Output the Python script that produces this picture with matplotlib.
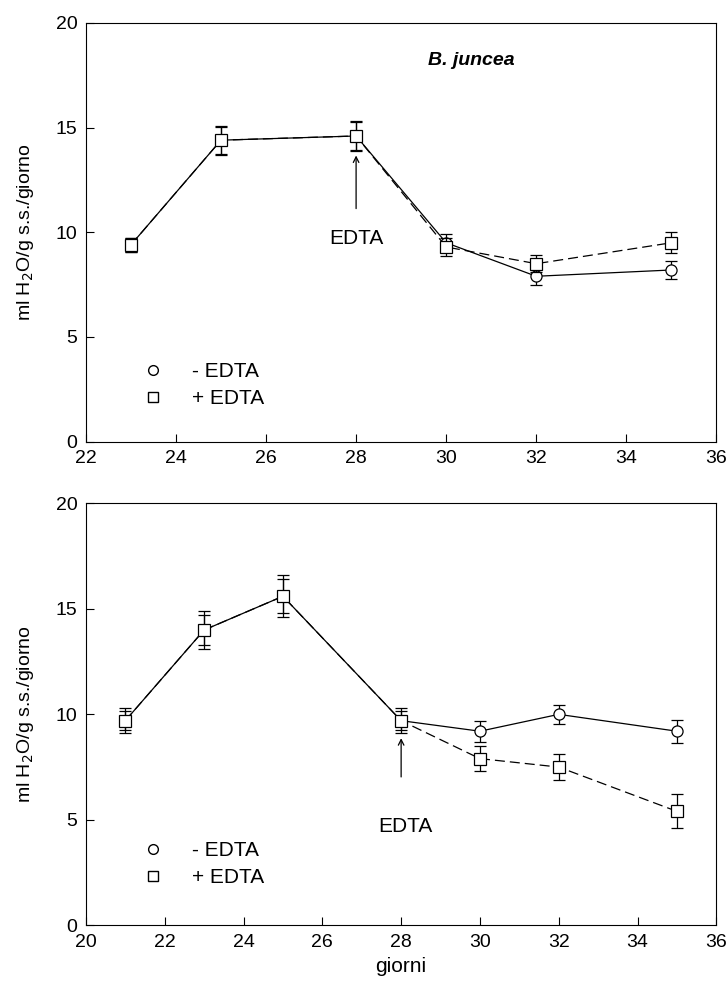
import numpy as np
import matplotlib.pyplot as plt
from matplotlib.lines import Line2D

plt.rcParams['font.family'] = ['Liberation Sans', 'DejaVu Sans']

# B. juncea (pannello superiore)
g1 = [23, 25, 28, 30, 32, 35]
meno1 = [9.4, 14.4, 14.6, 9.5, 7.9, 8.2]
meno1_err = [0.35, 0.7, 0.7, 0.4, 0.4, 0.45]
piu1 = [9.4, 14.4, 14.6, 9.3, 8.5, 9.5]
piu1_err = [0.35, 0.65, 0.65, 0.45, 0.4, 0.5]

# pannello inferiore
g2 = [21, 23, 25, 28, 30, 32, 35]
meno2 = [9.7, 14.0, 15.6, 9.7, 9.2, 10.0, 9.2]
meno2_err = [0.45, 0.7, 0.8, 0.45, 0.5, 0.45, 0.55]
piu2 = [9.7, 14.0, 15.6, 9.7, 7.9, 7.5, 5.4]
piu2_err = [0.6, 0.9, 1.0, 0.6, 0.6, 0.6, 0.8]

ylab = r'ml H$_2$O/g s.s./giorno'


def pannello(ax, x, m, me, p, pe, xlim, arrow, txt, leg_xy):
    ax.errorbar(x, m, yerr=me, color='k', lw=0.9, marker='o', ms=8,
                mfc='white', mec='k', mew=0.9, capsize=4, elinewidth=0.9,
                zorder=3)
    ax.errorbar(x, p, yerr=pe, color='k', lw=0.9, ls=(0, (8, 4)),
                marker='s', ms=9, mfc='white', mec='k', mew=0.9,
                capsize=4, elinewidth=0.9, zorder=4)
    ax.set_xlim(*xlim)
    ax.set_ylim(0, 20)
    ax.set_xticks(np.arange(xlim[0], xlim[1] + 1, 2))
    ax.set_yticks([0, 5, 10, 15, 20])
    ax.tick_params(direction='in', length=6, labelsize=14, top=False,
                   right=False, pad=6)
    ax.set_ylabel(ylab, fontsize=14, labelpad=14)
    ax.annotate('', xy=(28, arrow[1]), xytext=(28, arrow[0]),
                arrowprops=dict(arrowstyle='->', color='k', lw=0.9))
    ax.text(txt[0], txt[1], 'EDTA', fontsize=15, ha='center', va='center')
    # solo i marcatori nella legenda
    hh = [Line2D([], [], ls='none', marker='o', ms=7, mfc='white', mec='k'),
          Line2D([], [], ls='none', marker='s', ms=7.5, mfc='white', mec='k')]
    ax.legend(hh, ['- EDTA', '+ EDTA'], loc='lower left',
              bbox_to_anchor=leg_xy, frameon=False, fontsize=15,
              handletextpad=0.9, labelspacing=0.4, borderaxespad=0)


fig = plt.figure(figsize=(7.28, 9.97), dpi=100)
ax1 = fig.add_axes([0.118, 0.557, 0.866, 0.420])
ax2 = fig.add_axes([0.118, 0.072, 0.866, 0.423])

pannello(ax1, g1, meno1, meno1_err, piu1, piu1_err, (22, 36),
         (11.0, 13.8), (28, 9.7), (0.06, 0.06))
ax1.text(29.6, 18.2, 'B. juncea', fontsize=14, style='italic',
         fontweight='bold', ha='left', va='center')

pannello(ax2, g2, meno2, meno2_err, piu2, piu2_err, (20, 36),
         (6.9, 9.0), (28.1, 4.7), (0.06, 0.07))
ax2.set_xlabel('giorni', fontsize=15, labelpad=5)

fig.savefig('out.png', dpi=100)
